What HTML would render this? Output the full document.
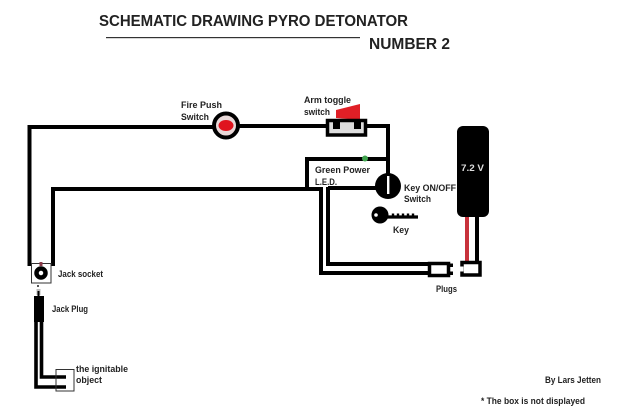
<!DOCTYPE html>
<html><head><meta charset="utf-8"><style>
html,body{margin:0;padding:0;background:#fff;width:620px;height:420px;overflow:hidden}
svg{display:block;filter:blur(.35px)}
text{font-family:"Liberation Sans",sans-serif;font-weight:bold;fill:#222;font-size:9.5px}
</style></head><body>
<svg width="620" height="420" viewBox="0 0 620 420" xmlns="http://www.w3.org/2000/svg">
<rect width="620" height="420" fill="#fff"/>
<text x="99" y="26" style="font-size:16px" textLength="309" lengthAdjust="spacingAndGlyphs">SCHEMATIC DRAWING PYRO DETONATOR</text>
<rect x="106" y="37" width="254" height="1.2" fill="#333"/>
<text x="369" y="49" style="font-size:16px" textLength="81" lengthAdjust="spacingAndGlyphs">NUMBER 2</text>

<g fill="none" stroke="#000" stroke-width="4">
<path d="M29.5 266V127H214"/>
<path d="M53 266V189H321V273H430"/>
<path d="M238 126H388V175"/>
<path d="M307 189V159H388"/>
<path d="M328 188H378"/>
<path d="M328 187V264H430"/>
<path d="M477 215V262"/>
</g>
<path d="M467 216V262" stroke="#c8323c" stroke-width="4" fill="none"/>

<polygon points="336,110 360,104 360,120 336,118" fill="#e01f26"/>
<rect x="327.500" y="120.500" width="38" height="14.500" fill="#ddd" stroke="#000" stroke-width="3.500"/>
<rect x="333" y="122" width="7" height="7" fill="#000"/>
<rect x="354" y="122" width="7" height="7" fill="#000"/>

<circle cx="226" cy="125.500" r="12" fill="#e8d8d8" stroke="#000" stroke-width="4"/>
<ellipse cx="226" cy="125.500" rx="7.500" ry="5.500" fill="#e0141e"/>

<circle cx="365" cy="158.500" r="3" fill="#3fa34d"/>

<circle cx="388" cy="186" r="13" fill="#000"/>
<rect x="387" y="176" width="2.400" height="18" fill="#fff"/>

<circle cx="380" cy="215" r="8.500" fill="#000"/>
<circle cx="376" cy="215" r="1.800" fill="#fff"/>
<path d="M385 217H418" stroke="#000" stroke-width="3.200"/>
<path d="M393 216v-2.500M398 216v-2.500M403 216v-2.500M408 216v-2.500M413 216v-2.500" stroke="#000" stroke-width="2.400"/>

<rect x="457" y="126" width="32" height="91" rx="6" fill="#000"/>
<text x="461" y="171" style="font-size:9.500px;fill:#ddd" textLength="23" lengthAdjust="spacingAndGlyphs">7.2 V</text>

<rect x="429.500" y="263.500" width="19" height="12" fill="#fff" stroke="#000" stroke-width="3.500"/>
<rect x="450" y="263.500" width="3" height="3.500" fill="#000"/>
<rect x="450" y="271.500" width="3" height="3.500" fill="#000"/>
<rect x="462" y="262.500" width="18" height="12.500" fill="#fff" stroke="#000" stroke-width="3.500"/>
<rect x="459" y="266.500" width="4.500" height="5" fill="#fff"/>

<rect x="31.500" y="263.500" width="19.500" height="19.500" fill="#fff" stroke="#333" stroke-width="1"/>
<rect x="39.500" y="262" width="3" height="4" fill="#8b3a4a"/>
<circle cx="41" cy="273" r="4.500" fill="#fff" stroke="#000" stroke-width="4.500"/>

<path d="M38 285v2" stroke="#555" stroke-width="2"/>
<rect x="36.500" y="289" width="4" height="6" fill="#bbb"/>
<path d="M38.500 291v5" stroke="#000" stroke-width="2"/>
<rect x="34" y="296" width="10" height="26" fill="#000"/>
<g fill="none" stroke="#000" stroke-width="3.600">
<path d="M36 320V387H66"/>
<path d="M41.500 320V377H66"/>
</g>
<rect x="56" y="369.500" width="18" height="21.500" fill="none" stroke="#333" stroke-width="1"/>

<text x="181" y="108" textLength="41" lengthAdjust="spacingAndGlyphs">Fire Push</text>
<text x="181" y="120" textLength="28" lengthAdjust="spacingAndGlyphs">Switch</text>
<text x="304" y="103" textLength="47" lengthAdjust="spacingAndGlyphs">Arm toggle</text>
<text x="304" y="115" textLength="26" lengthAdjust="spacingAndGlyphs">switch</text>
<text x="315" y="173" textLength="55" lengthAdjust="spacingAndGlyphs">Green Power</text>
<text x="315" y="185" textLength="22" lengthAdjust="spacingAndGlyphs">L.E.D.</text>
<text x="404" y="191" textLength="52" lengthAdjust="spacingAndGlyphs">Key ON/OFF</text>
<text x="404" y="202" textLength="27" lengthAdjust="spacingAndGlyphs">Switch</text>
<text x="393" y="233" textLength="16" lengthAdjust="spacingAndGlyphs">Key</text>
<text x="436" y="292" textLength="21" lengthAdjust="spacingAndGlyphs">Plugs</text>
<text x="58" y="277" textLength="45" lengthAdjust="spacingAndGlyphs">Jack socket</text>
<text x="52" y="312" textLength="36" lengthAdjust="spacingAndGlyphs">Jack Plug</text>
<text x="76" y="372" textLength="52" lengthAdjust="spacingAndGlyphs">the ignitable</text>
<text x="76" y="383" textLength="26" lengthAdjust="spacingAndGlyphs">object</text>
<text x="545" y="383" textLength="56" lengthAdjust="spacingAndGlyphs">By Lars Jetten</text>
<text x="481" y="404" textLength="104" lengthAdjust="spacingAndGlyphs">* The box is not displayed</text>
</svg>
</body></html>
